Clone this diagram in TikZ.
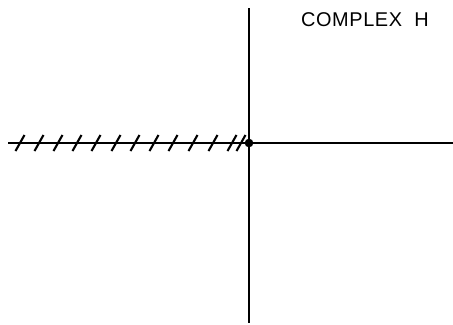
\documentclass[tikz,border=0pt]{standalone}
\usepackage{fontspec}
\setmainfont{Liberation Sans}
\usepackage{tikz}

\begin{document}
\begin{tikzpicture}[
        x=0.03cm, y=-0.03cm,
        axis/.style={line width=2.4pt},
        hatch/.style={line width=1.8pt},
        pole/.style={circle, fill, minimum size=0.26cm, inner sep=0pt},
        lbl/.style={font=\fontsize{17}{17}\selectfont\addfontfeatures{LetterSpace=3}}
    ]
    \useasboundingbox (0,0) rectangle (453,324);

    % Axes
    \coordinate (o) at (249,143);
    \coordinate (left) at (8,143);
    \coordinate (right) at (453,143);
    \coordinate (top) at (249,8);
    \coordinate (bottom) at (249,323);
    \draw[axis] (left) -- (right);
    \draw[axis] (top) -- (bottom);

    % Hatched cut on the negative real axis
    \foreach \x in {20,39,58,77,96,116,135,154,173,193,213,232,241}
        \draw[hatch] (\x-4.5,151) -- (\x+4.5,135);

    \node[pole] (p) at (o) {};

    % Label
    \node[lbl] (title) at (365,20) {COMPLEX\ \ H};

\end{tikzpicture}
\end{document}
